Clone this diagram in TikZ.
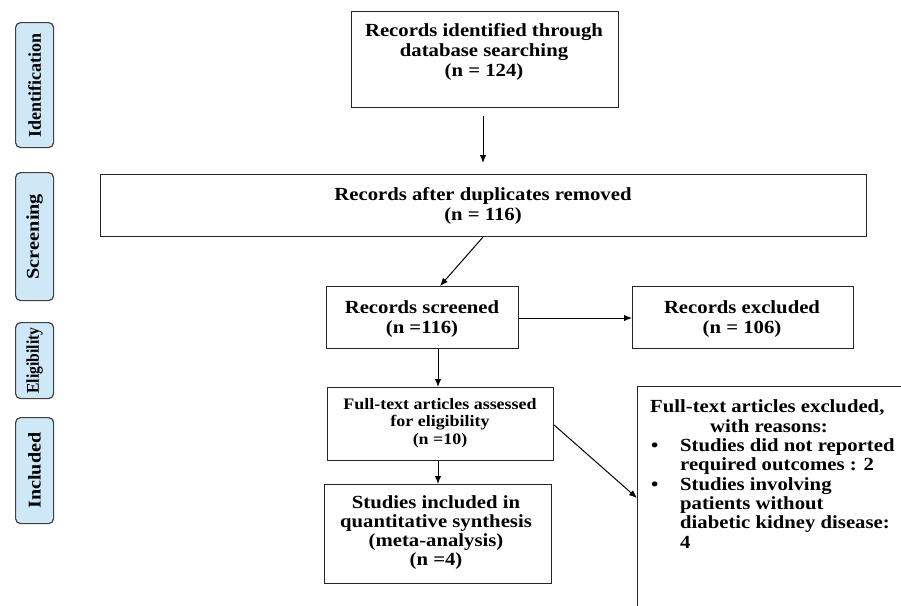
\documentclass[tikz,border=0pt]{standalone}
\usepackage{fontspec}
\setmainfont{Liberation Serif}[FakeStretch=1.12]
\newfontfamily\sidefont{Liberation Serif}
\usetikzlibrary{arrows.meta}
\definecolor{sideblue}{HTML}{CFE8F8}
\tikzset{
  box/.style={draw=black!85, line width=1.1pt, anchor=north west, inner sep=0pt},
  side/.style={draw=black!75, line width=1.2pt, fill=sideblue, rounded corners=5pt, anchor=north west, inner sep=0pt},
  sidetxt/.style={rotate=90, font=\sidefont\bfseries\fontsize{18}{20}\selectfont, inner sep=0pt},
  txt/.style={align=center, font=\bfseries\fontsize{18.5}{20}\selectfont, inner sep=0pt, anchor=base},
  smalltxt/.style={align=center, font=\bfseries\fontsize{16}{17.5}\selectfont, inner sep=0pt, anchor=base},
  lefttxt/.style={align=left, font=\bfseries\fontsize{18.5}{19.3}\selectfont, inner sep=0pt, anchor=base west},
  arr/.style={line width=1pt, -{Latex[length=8pt,width=6.5pt]}},
}
\begin{document}
\begin{tikzpicture}[x=1pt,y=-1pt]
\useasboundingbox (0,0) rectangle (901,605);
\clip (0,0) rectangle (901,605);
% side labels
\node[side, minimum width=38, minimum height=125] (sid) at (15,22) {};
\node[sidetxt] (sidt) at (sid.center) {\scalebox{1.0}[1]{Identification}};
\node[side, minimum width=38, minimum height=128] (ssc) at (15,172) {};
\node[sidetxt] (ssct) at (ssc.center) {\scalebox{1.13}[1]{Screening}};
\node[side, minimum width=38, minimum height=76] (sel) at (15,322) {};
\node[sidetxt] (selt) at (sel.center) {\scalebox{0.87}[1]{Eligibility}};
\node[side, minimum width=38, minimum height=106] (sin) at (15,417) {};
\node[sidetxt] (sint) at (sin.center) {\scalebox{1.12}[1]{Included}};
% boxes (text anchors are at the baseline of the last line)
\node[box, minimum width=267, minimum height=96] (b1) at (351,11) {};
\node[txt] (t1) at (484,76) {Records identified through\\database searching\\(n = 124)};
\node[box, minimum width=766, minimum height=62] (b2) at (100,174) {};
\node[txt] (t2) at (483,220) {Records after duplicates removed\\(n = 116)};
\node[box, minimum width=192, minimum height=62] (b3) at (326,286) {};
\node[txt] (t3) at (422,333) {Records screened\\(n =116)};
\node[box, minimum width=221, minimum height=62] (b4) at (632,286) {};
\node[txt] (t4) at (742,333) {Records excluded\\(n = 106)};
\node[box, minimum width=226, minimum height=73] (b5) at (327,387) {};
\node[smalltxt] (t5) at (440,444) {Full-text articles assessed\\for eligibility\\(n =10)};
\node[box, minimum width=227, minimum height=99] (b6) at (324,484) {};
\node[txt, font=\bfseries\fontsize{18.5}{18.8}\selectfont] (t6) at (436,565) {Studies included in\\quantitative synthesis\\(meta-analysis)\\(n =4)};
\node[box, minimum width=300, minimum height=240] (b7) at (637,386) {};
\node[lefttxt] (t7) at (650,548) {Full-text articles excluded,\\\hspace*{60pt}with reasons:\\
\makebox[30pt][l]{\hspace*{1pt}\textbullet}Studies did not reported\\
\hspace*{30pt}required outcomes : 2\\
\makebox[30pt][l]{\hspace*{1pt}\textbullet}Studies involving\\
\hspace*{30pt}patients without\\
\hspace*{30pt}diabetic kidney disease:\\
\hspace*{30pt}4};
% connectors
\coordinate (a1s) at (483,116);
\coordinate (a1e) at (483,163);
\draw[arr] (a1s) -- (a1e);
\draw[arr] (b2.south -| 483,0) -- (b3.north -| 440,0);
\draw[arr] (b3.east |- 0,318) -- (b4.west |- 0,318);
\draw[arr] (b3.south -| 438,0) -- (b5.north -| 438,0);
\draw[arr] (b5.south -| 438,0) -- (b6.north -| 438,0);
\draw[arr] (b5.east |- 0,425) -- (b7.west |- 0,498);
\end{tikzpicture}
\end{document}
